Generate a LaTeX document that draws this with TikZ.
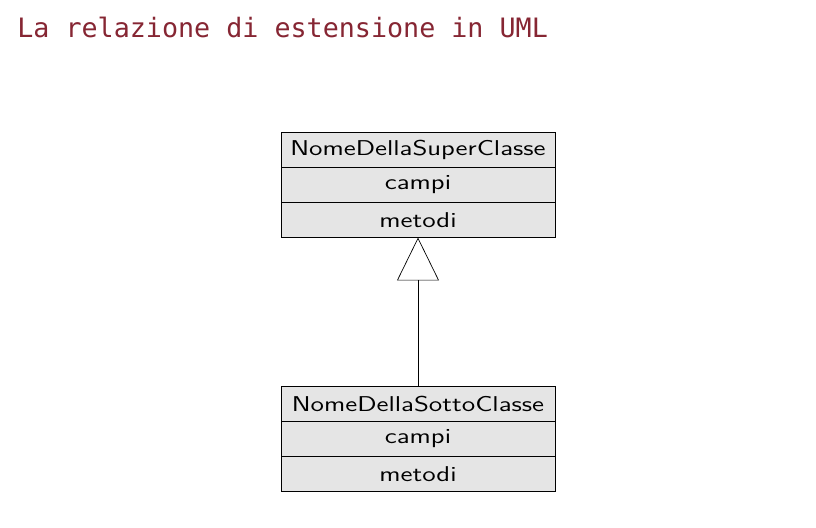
\documentclass[tikz,border=0pt]{standalone}
\usepackage{fontspec}
\usepackage{xcolor}
\usepackage{tikz}
\usetikzlibrary{positioning,arrows.meta}
\setsansfont[FakeStretch=1.28]{Latin Modern Sans}
\newfontfamily\titlefont{DejaVu Sans Mono}
\definecolor{titlered}{RGB}{134,38,51}
\definecolor{rowgray}{RGB}{229,229,229}
\tikzset{
  classrow/.style={draw, fill=rowgray, minimum width=5.48cm, minimum height=0.7cm,
    inner sep=0pt, outer sep=0pt, font=\sffamily\fontsize{12.2}{14}\selectfont},
  extends/.style={-{Triangle[open,length=0.86cm,width=0.84cm]}}
}

\begin{document}
\begin{tikzpicture}[x=0.02cm,y=0.02cm]
    \useasboundingbox (0,0) rectangle (816,528);
    % Titolo
    \node[anchor=base west, inner sep=0pt, text=titlered, font=\titlefont\fontsize{15.2}{18}\selectfont] (title) at (17,490) {La relazione di estensione in UML};

    % Superclasse
    \node[classrow] (supname) at (418,378) {NomeDellaSuperClasse};
    \node[classrow, below=0pt of supname] (supfields) {campi};
    \node[classrow, below=0pt of supfields] (supmeth) {metodi};

    % Sottoclasse
    \node[classrow] (subname) at (418,124) {NomeDellaSottoClasse};
    \node[classrow, below=0pt of subname] (subfields) {campi};
    \node[classrow, below=0pt of subfields] (submeth) {metodi};

    \draw[extends] (subname.north) -- (supmeth.south);
\end{tikzpicture}
\end{document}
